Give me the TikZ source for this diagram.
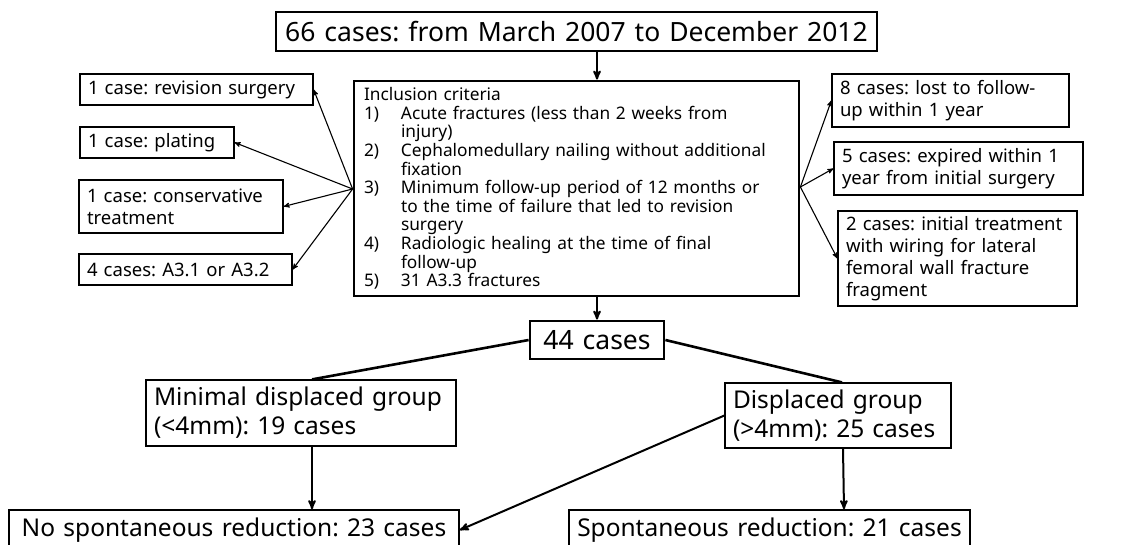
\documentclass[tikz,border=0pt]{standalone}
\usepackage{fontspec}
\setmainfont[WordSpace=1.3]{Noto Sans}
\usepackage{tikz}
\usetikzlibrary{arrows}
\usetikzlibrary{calc}
\frenchspacing
\hyphenpenalty=10000
\exhyphenpenalty=10000
\def\hugesz{\fontsize{26.5}{31}\selectfont}
\def\bigsz{\fontsize{24.5}{29}\selectfont}
\def\midsz{\fontsize{18.5}{22}\selectfont}
\def\smallsz{\fontsize{17.3}{18.6}\selectfont}
\def\crit#1{\makebox[37pt][l]{#1}}
\def\cont{\hspace*{37pt}}

\begin{document}
\begin{tikzpicture}[x=1pt, y=-1pt,
      box/.style={draw, line width=1.2pt, inner xsep=8pt, inner ysep=0pt, align=left},
      heavy box/.style={draw, line width=2.8pt, inner sep=0pt},
      main arrow/.style={->, >=stealth', line width=2pt},
      side arrow/.style={->, >=stealth', line width=1.1pt},
      split line/.style={line width=2.6pt}
      ]
      \useasboundingbox (0,0) rectangle (1124,544);

      % top
      \node[heavy box, minimum width=601pt, minimum height=39pt, font=\hugesz] (start) at (576.5,31.5)
        {66 cases: from March 2007 to December 2012};
      \node[heavy box, inner xsep=10pt, text width=425pt, minimum height=215pt, align=left, font=\smallsz] (criteria) at (576.5,188.5)
        {Inclusion criteria\\
         \crit{1)}Acute fractures (less than 2 weeks from\\
         \cont injury)\\
         \crit{2)}Cephalomedullary nailing without additional\\
         \cont fixation\\
         \crit{3)}Minimum follow-up period of 12 months or\\
         \cont to the time of failure that led to revision\\
         \cont surgery\\
         \crit{4)}Radiologic healing at the time of final\\
         \cont follow-up\\
         \crit{5)}31 A3.3 fractures};

      % excluded, left
      \node[box, text width=217pt, minimum height=31pt, font=\midsz] (revision) at (196.5,89.5) {1 case: revision surgery};
      \node[box, text width=138pt, minimum height=31pt, font=\midsz] (plating) at (157,142.5) {1 case: plating};
      \node[box, text width=188pt, minimum height=53pt, font=\midsz] (conserv) at (181,206.5) {1 case: conservative\\treatment};
      \node[box, text width=197pt, minimum height=31pt, font=\midsz] (typeA) at (185.5,269.5) {4 cases: A3.1 or A3.2};

      % excluded, right
      \node[box, text width=221pt, minimum height=53pt, font=\midsz] (lost) at (950.5,100.5) {8 cases: lost to follow-\\up within 1 year};
      \node[box, text width=233pt, minimum height=53pt, font=\midsz] (expired) at (958.5,168.5) {5 cases: expired within 1\\year from initial surgery};
      \node[box, text width=223pt, minimum height=95pt, font=\midsz] (wiring) at (957.5,258.5) {2 cases: initial treatment\\with wiring for lateral\\femoral wall fracture\\fragment};

      % groups
      \node[heavy box, minimum width=134pt, minimum height=38pt, font=\hugesz] (total) at (597,340) {44 cases};
      \node[box, text width=294pt, minimum height=66pt, font=\bigsz] (minimal) at (301,413) {Minimal displaced group\\(<4mm): 19 cases};
      \node[box, text width=210pt, minimum height=65pt, font=\bigsz] (displaced) at (838,415.5) {Displaced group\\(>4mm): 25 cases};
      \node[box, line width=1.6pt, minimum width=450pt, minimum height=40pt, align=center, font=\bigsz] (noreduct) at (234,530) {No spontaneous reduction: 23 cases};
      \node[box, line width=1.6pt, minimum width=399pt, minimum height=40pt, align=center, font=\bigsz] (reduct) at (769.5,530) {Spontaneous reduction: 21 cases};

      % connectors
      \draw[main arrow] (start.south -| total) -- (criteria.north -| total);
      \draw[main arrow] (criteria.south -| total) -- (total.north);
      \coordinate (critL) at ($(criteria.west)+(0,0.5)$);
      \coordinate (critR) at ($(criteria.east)+(0,-1.5)$);
      \foreach \t in {revision, plating, conserv, typeA}
        \draw[side arrow] (critL) -- (\t.east);
      \foreach \t in {lost, expired, wiring}
        \draw[side arrow] (critR) -- (\t.west);
      \coordinate (minTop) at ($(minimal.north)+(11,0)$);
      \coordinate (minBot) at ($(minimal.south)+(11,0)$);
      \coordinate (dispTop) at ($(displaced.north)+(4,0)$);
      \coordinate (dispBot) at ($(displaced.south)+(5,0)$);
      \draw[split line] (total.west) -- (minTop);
      \draw[split line] (total.east) -- (dispTop);
      \draw[main arrow] (minBot) -- (minBot |- noreduct.north);
      \draw[main arrow] (dispBot) -- ($(dispBot |- reduct.north)+(1,0)$);
      \draw[main arrow] (displaced.west) -- (noreduct.east);
    \end{tikzpicture}
\end{document}
